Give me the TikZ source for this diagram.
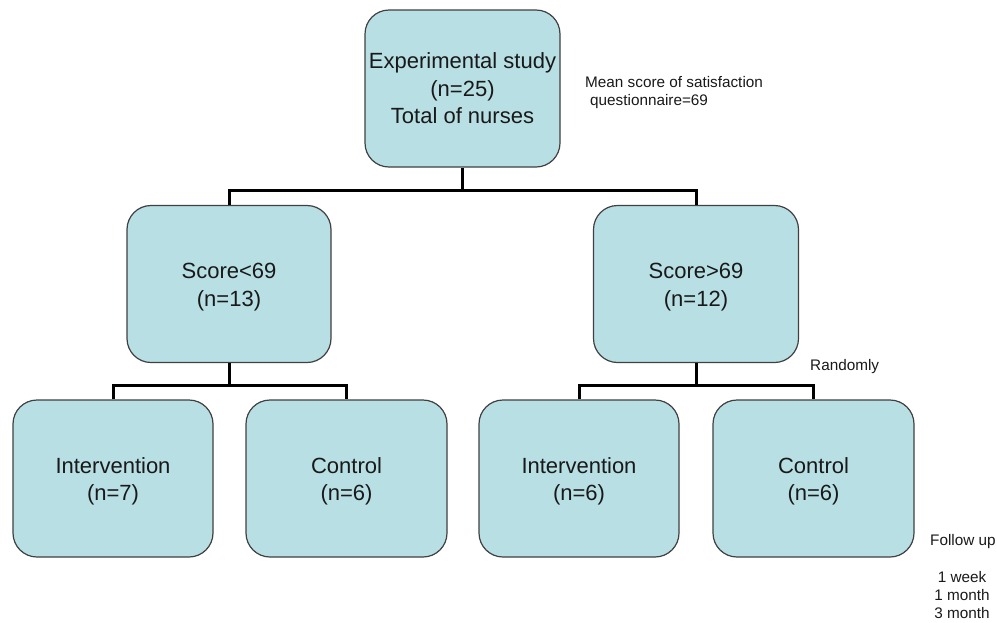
\documentclass[tikz,border=0pt]{standalone}
\usepackage{fontspec}
\setmainfont{Liberation Sans}
\definecolor{boxfill}{RGB}{184,223,228}
\definecolor{boxline}{RGB}{64,64,64}
\definecolor{txt}{RGB}{25,25,25}
\newcommand{\downby}{\rule{0pt}{22pt}}
\begin{document}
\begin{tikzpicture}[x=1pt,y=-1pt,
  box/.style={draw=boxline, line width=1.2pt, fill=boxfill, rounded corners=24pt,
    align=center, inner sep=0pt, text=txt,
    font=\fontsize{22}{27.5}\selectfont},
  conn/.style={draw=black, line width=3pt},
  note/.style={inner sep=0pt, text=txt, font=\fontsize{15.3}{18}\selectfont}]
\useasboundingbox (0,0) rectangle (997,622);

\node[box, minimum width=195pt, minimum height=157pt] (top) at (462.5,88.5)
  {Experimental study\\(n=25)\\Total of nurses};
\node[box, minimum width=204pt, minimum height=157pt] (midL) at (229,284)
  {\downby Score<69\\(n=13)};
\node[box, minimum width=205pt, minimum height=157pt] (midR) at (696,284)
  {\downby Score>69\\(n=12)};
\node[box, minimum width=200pt, minimum height=157pt] (b1) at (113,478.5)
  {\downby Intervention\\(n=7)};
\node[box, minimum width=201pt, minimum height=157pt] (b2) at (346.5,478.5)
  {\downby Control\\(n=6)};
\node[box, minimum width=200pt, minimum height=157pt] (b3) at (579,478.5)
  {\downby Intervention\\(n=6)};
\node[box, minimum width=201pt, minimum height=157pt] (b4) at (813.5,478.5)
  {\downby Control\\(n=6)};

\coordinate (j1) at (462.5,190);
\coordinate (j2) at (229,385);
\coordinate (j3) at (696,385);

\draw[conn] (top.south) -- (j1);
\draw[conn] (midL.north) |- (j1) -| (midR.north);
\draw[conn] (midL.south) -- (j2);
\draw[conn] (b1.north) |- (j2) -| (b2.north);
\draw[conn] (midR.south) -- (j3);
\draw[conn] (b3.north) |- (j3) -| (b4.north);

\node[note, anchor=base west] (mean1) at (585,87) {Mean score of satisfaction};
\node[note, anchor=base west] (mean2) at (590,105) {questionnaire=69};
\node[note, anchor=base west] (rand) at (810,370) {Randomly};
\node[note, anchor=base west] (fup) at (930,545) {Follow up};
\node[note, anchor=base] (t1) at (962,582) {1 week};
\node[note, anchor=base] (t2) at (962,600) {1 month};
\node[note, anchor=base] (t3) at (962,618) {3 month};
\end{tikzpicture}
\end{document}
